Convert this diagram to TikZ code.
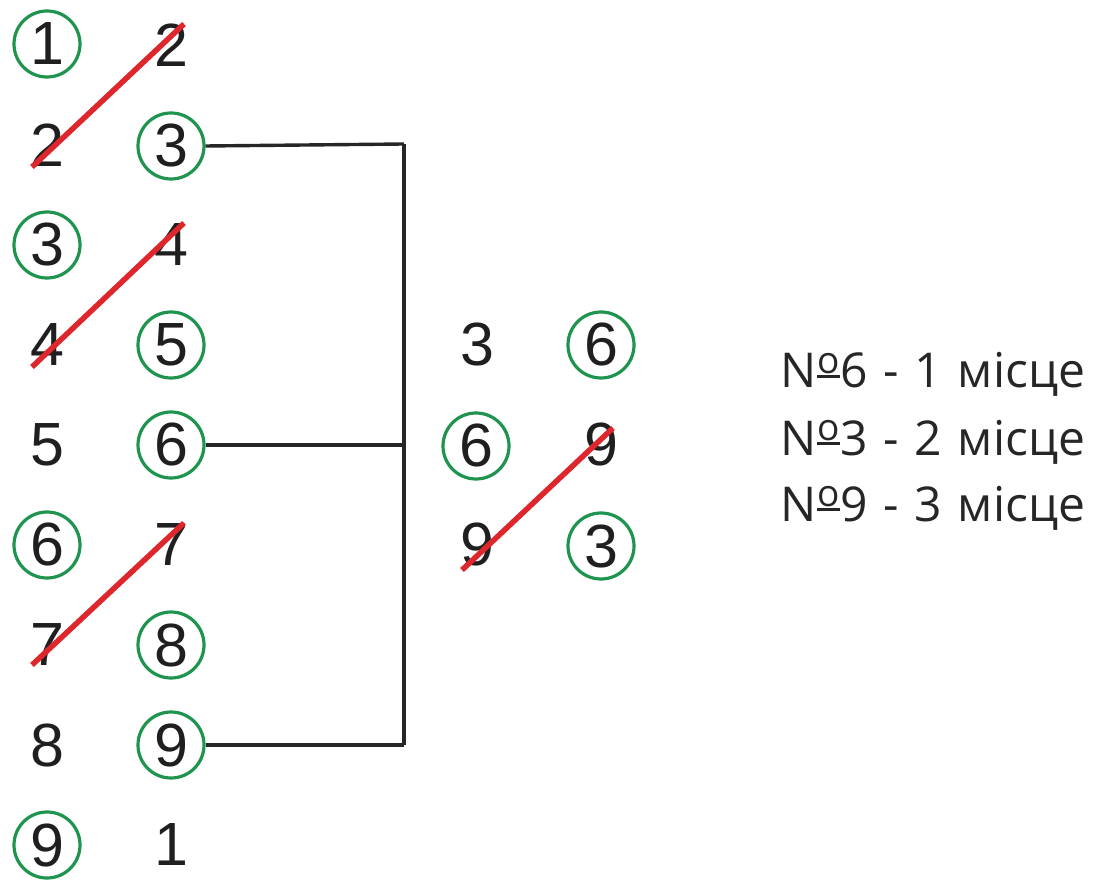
\documentclass[tikz,border=0pt]{standalone}
\usepackage{fontspec}
\setmainfont{Liberation Sans}
\newfontfamily\legendfont[WordSpace=1.25]{Open Sans}
\definecolor{ringgreen}{RGB}{30,148,78}
\definecolor{strikered}{RGB}{222,38,45}
\newcommand\numsign{N\kern1pt\raisebox{10pt}{\vbox{\hbox{\fontsize{37}{37}\selectfont o}\kern1.5pt\hrule height 3pt}}\kern1pt}
\begin{document}
\begin{tikzpicture}[x=1pt,y=-1pt,
  dig/.style={inner sep=0pt,minimum size=66pt,font=\fontsize{61}{61}\selectfont,text=black!88},
  ring/.style={dig,circle,draw=ringgreen,line width=3.2pt},
  strike/.style={draw=strikered,line width=5.5pt},
  wire/.style={draw=black!85,line width=3.4pt},
  legend/.style={anchor=base west,inner sep=0pt,font=\legendfont\fontsize{48}{66}\selectfont,text=black!85}]
\useasboundingbox (0,0) rectangle (1106,882);
% left column 1
\node[ring] (a1) at (47,44) {1};
\node[dig]  (a2) at (47,145) {2};
\node[ring] (a3) at (47,245) {3};
\node[dig]  (a4) at (47,345) {4};
\node[dig]  (a5) at (47,445) {5};
\node[ring] (a6) at (47,545) {6};
\node[dig]  (a7) at (47,645) {7};
\node[dig]  (a8) at (47,745) {8};
\node[ring] (a9) at (47,845) {9};
% left column 2
\node[dig]  (b1) at (171,45) {2};
\node[ring] (b2) at (171,146) {3};
\node[dig]  (b3) at (171,245) {4};
\node[ring] (b4) at (171,345) {5};
\node[ring] (b5) at (171,445) {6};
\node[dig]  (b6) at (171,545) {7};
\node[ring] (b7) at (171,645) {8};
\node[ring] (b8) at (171,745) {9};
\node[dig]  (b9) at (171,845) {1};
% right group
\node[dig]  (c1) at (477,345) {3};
\node[ring] (c2) at (476,446) {6};
\node[dig]  (c3) at (477,545) {9};
\node[ring] (d1) at (601,345) {6};
\node[dig]  (d2) at (601,445) {9};
\node[ring] (d3) at (601,546) {3};
% strikes
\draw[strike] ([xshift=-15pt,yshift=-22pt]a2.center) -- ([xshift=13pt,yshift=21pt]b1.center);
\draw[strike] ([xshift=-15pt,yshift=-22pt]a4.center) -- ([xshift=13pt,yshift=22pt]b3.center);
\draw[strike] ([xshift=-15pt,yshift=-20pt]a7.center) -- ([xshift=13pt,yshift=22pt]b6.center);
\draw[strike] ([xshift=-15pt,yshift=-25pt]c3.center) -- ([xshift=12pt,yshift=17pt]d2.center);
% wires
\coordinate (j1) at (404,144);
\coordinate (j2) at (404,445);
\coordinate (j3) at (404,745);
\draw[wire] (b2.east) -- (j1);
\draw[wire] (b5.east) -- (j2);
\draw[wire] (b8.east) -- (j3);
\draw[wire] (j1) -- (j3);
% legend
\node[legend] (t1) at (780,388) {\numsign6 - 1 місце};
\node[legend] (t2) at (780,455) {\numsign3 - 2 місце};
\node[legend] (t3) at (780,521) {\numsign9 - 3 місце};
\end{tikzpicture}
\end{document}
